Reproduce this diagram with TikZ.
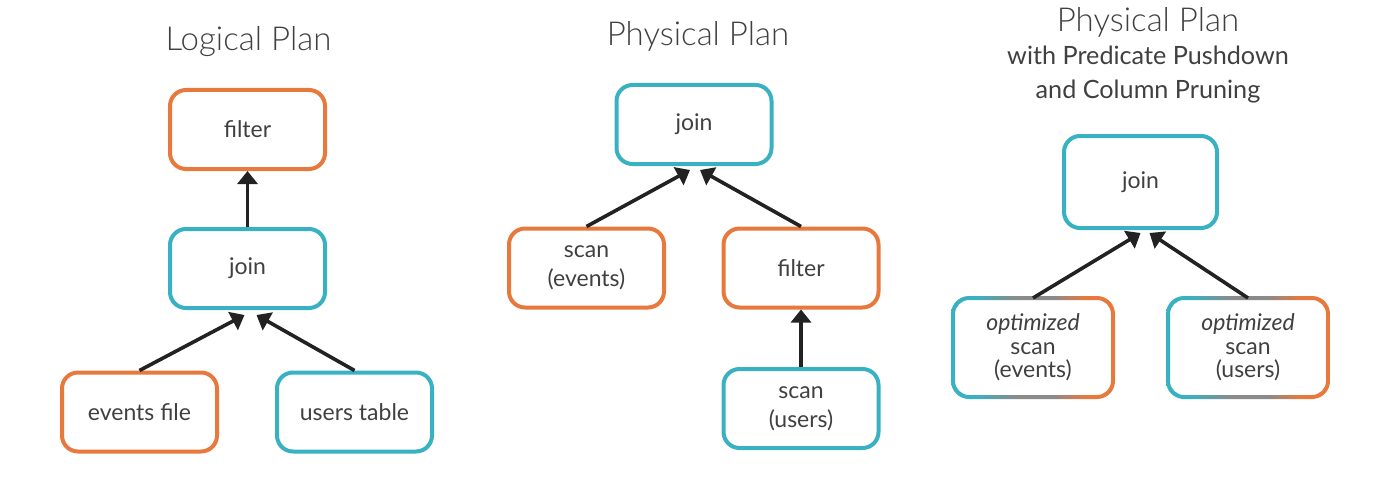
\documentclass[tikz,border=0pt]{standalone}
\usepackage{fontspec}
\setmainfont{Lato}
\newfontfamily\lightfont{Lato Light}
\usetikzlibrary{arrows.meta}
\definecolor{orangec}{HTML}{E8793D}
\definecolor{tealc}{HTML}{38B1C2}
\definecolor{midgray}{HTML}{8A8A8A}
\definecolor{txt}{HTML}{404040}
\definecolor{arr}{HTML}{222222}
\pgfdeclarehorizontalshading{ringshade}{100bp}{color(0bp)=(tealc); color(25bp)=(tealc); color(32bp)=(tealc); color(45bp)=(midgray); color(56bp)=(midgray); color(66bp)=(orangec); color(75bp)=(orangec); color(100bp)=(orangec)}
\tikzset{
  box/.style={rectangle, rounded corners=8pt, line width=2pt, minimum width=77.5pt, minimum height=39.5pt, align=center, text=txt, font=\fontsize{11.5}{14.5}\selectfont, fill=white},
  obox/.style={box, draw=orangec},
  tbox/.style={box, draw=tealc},
  gbox/.style={box, minimum width=78pt, minimum height=47.5pt, font=\fontsize{11.5}{11.75}\selectfont},
  title/.style={anchor=base, text=txt, font=\lightfont\fontsize{16.5}{18}\selectfont},
  subtitle/.style={anchor=base, text=txt, font=\fontsize{12.6}{14}\selectfont},
  conn/.style={line width=1.8pt, draw=arr, -{Triangle[length=6.5pt,width=10pt]}}
}
\newcommand{\gradring}[1]{%
  \shade[shading=ringshade, even odd rule]
    [rounded corners=9pt] ([shift={(-2,-2)}]#1.north west) rectangle ([shift={(2,2)}]#1.south east)
    [rounded corners=7pt] ([shift={(2,2)}]#1.north west) rectangle ([shift={(-2,-2)}]#1.south east);}
\begin{document}
\begin{tikzpicture}[x=0.5pt,y=-0.5pt]
\useasboundingbox (0,0) rectangle (1400,476);
% Logical plan
\node[title] (t1) at (248.5,51) {Logical Plan};
\node[obox] (lfilter) at (247.5,129.5) {filter};
\node[tbox] (ljoin) at (247.5,268.5) {join};
\node[obox] (levents) at (139.5,412) {events file};
\node[tbox] (lusers) at (354.5,412) {users table};
\coordinate (la) at ([shift={(-3,5)}]ljoin.south);
\coordinate (lb) at ([shift={(9,5)}]ljoin.south);
\draw[conn] (ljoin.north) -- (lfilter.south);
\draw[conn] (levents.north) -- (la);
\draw[conn] (lusers.north) -- (lb);
% Physical plan
\node[title] (t2) at (698,46) {Physical Plan};
\node[tbox] (pjoin) at (694,124.5) {join};
\node[obox] (pevents) at (586.5,268) {scan\\(events)};
\node[obox] (pfilter) at (801,268) {filter};
\node[tbox] (pusers) at (801,408.5) {scan\\(users)};
\coordinate (pa) at ([shift={(-4,4)}]pjoin.south);
\coordinate (pb) at ([shift={(6,4)}]pjoin.south);
\draw[conn] (pevents.north) -- (pa);
\draw[conn] (pfilter.north) -- (pb);
\draw[conn] (pusers.north) -- (pfilter.south);
% Optimized physical plan
\node[title] (t3) at (1148,32) {Physical Plan};
\node[subtitle] (t3b) at (1148,65) {with Predicate Pushdown};
\node[subtitle] (t3c) at (1148,98) {and Column Pruning};
\node[tbox, minimum width=76.5pt, minimum height=46pt] (ojoin) at (1140.5,182) {join};
\node[gbox] (oevents) at (1033,347.5) {\textit{optimized}\\scan\\(events)};
\node[gbox] (ousers) at (1248,347.5) {\textit{optimized}\\scan\\(users)};
\gradring{oevents}
\gradring{ousers}
\coordinate (oa) at ([shift={(0,3)}]ojoin.south);
\coordinate (ob) at ([shift={(9,3)}]ojoin.south);
\draw[conn] (oevents.north) -- (oa);
\draw[conn] (ousers.north) -- (ob);
\end{tikzpicture}
\end{document}
